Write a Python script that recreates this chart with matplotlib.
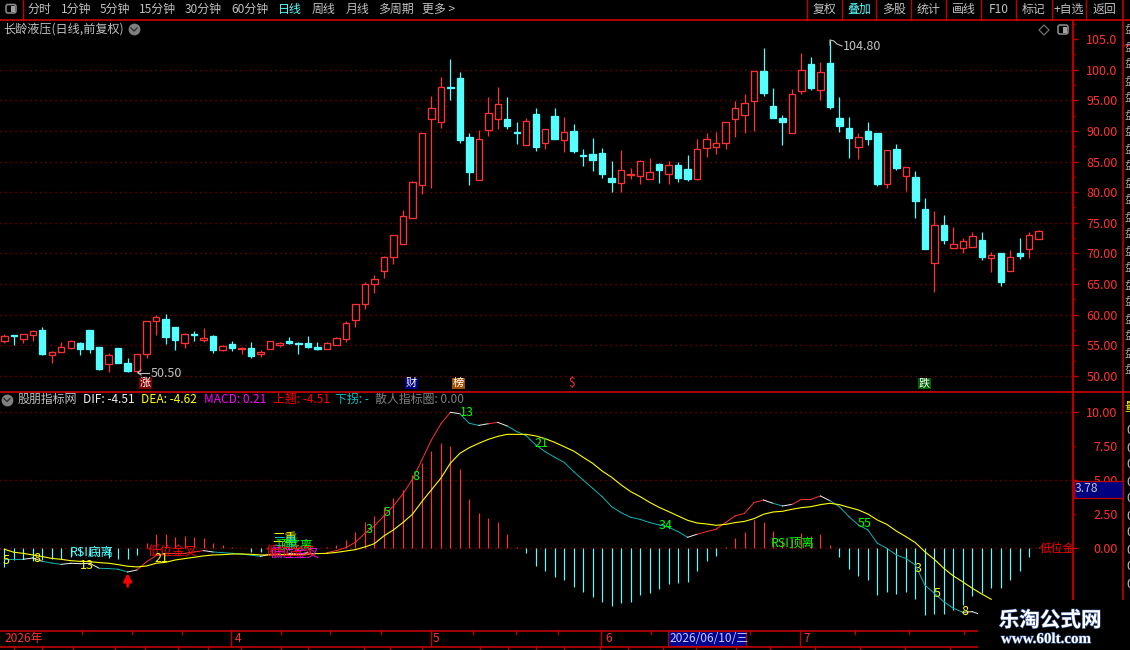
import matplotlib
matplotlib.use('Agg')
import matplotlib.pyplot as plt
from matplotlib.patches import Rectangle, FancyBboxPatch, Polygon
import matplotlib.patheffects as pe

plt.rcParams['font.family'] = ['Noto Sans CJK SC', 'DejaVu Sans']

W, H = 1130, 650
RED = '#ff3232'
CYAN = '#54ffff'
FRAME = '#c00000'
GRAY = '#c0c0c0'

# one row per day: open, high, low, close
OPEN = [55.76, 56.69, 56.03, 56.63, 57.50, 53.37, 53.97, 54.62, 55.44, 57.50,
        54.73, 51.90, 54.57, 52.12, 50.87, 53.53, 58.92, 59.30, 57.94, 55.33,
        56.85, 55.93, 56.52, 54.19, 55.22, 54.35, 54.57, 53.53, 54.46, 55.00,
        55.71, 55.44, 55.33, 54.68, 54.46, 55.00, 55.98, 59.19, 61.70, 64.96,
        67.08, 69.37, 71.59, 75.73, 81.22, 91.88, 91.50, 97.15, 98.63, 89.00,
        82.04, 90.20, 91.94, 91.94, 89.80, 87.75, 92.76, 88.08, 92.43, 88.57,
        89.98, 86.05, 86.23, 86.39, 82.31, 81.55, 82.75, 82.69, 82.20, 84.60,
        83.02, 84.43, 83.78, 82.20, 87.26, 87.42, 88.08, 92.00, 92.65, 94.94,
        99.73, 94.07, 92.11, 89.72, 96.57, 100.92, 96.68, 101.09, 92.11, 90.48,
        87.43, 89.99, 89.66, 81.39, 87.05, 82.70, 82.48, 77.26, 68.50, 74.65,
        70.95, 70.95, 71.11, 72.20, 69.32, 70.08, 67.20, 70.08, 70.79, 72.42]
HIGH = [56.80, 56.69, 56.80, 57.50, 57.94, 54.02, 55.60, 55.87, 55.60, 57.50,
        54.73, 53.70, 54.57, 52.88, 53.53, 58.92, 60.00, 60.12, 57.94, 56.96,
        57.29, 57.78, 56.63, 55.06, 55.65, 54.78, 55.55, 54.24, 55.65, 55.49,
        56.31, 55.55, 56.52, 55.49, 55.49, 56.42, 58.92, 61.69, 65.29, 66.43,
        69.59, 72.96, 77.09, 81.82, 89.60, 95.69, 98.74, 101.73, 99.61, 89.60,
        90.14, 95.53, 97.16, 95.53, 91.45, 92.05, 93.73, 90.25, 93.73, 92.27,
        91.12, 87.04, 88.84, 87.21, 85.08, 86.88, 83.94, 85.25, 85.57, 84.76,
        85.03, 84.92, 86.06, 88.68, 89.65, 89.82, 91.40, 94.88, 96.03, 99.73,
        103.53, 97.01, 92.60, 96.79, 102.72, 102.07, 101.25, 104.80, 95.54, 92.27,
        89.61, 91.46, 89.66, 86.83, 87.87, 84.06, 83.46, 79.05, 76.93, 76.28,
        74.32, 72.53, 73.51, 73.51, 70.24, 70.08, 70.57, 72.53, 73.51, 73.83]
LOW = [55.44, 55.06, 55.44, 55.76, 53.42, 52.17, 53.97, 54.46, 53.42, 53.80,
       50.98, 50.70, 52.06, 50.70, 50.50, 52.99, 56.69, 55.22, 54.24, 54.62,
       55.76, 55.49, 53.80, 54.13, 54.13, 53.59, 52.88, 53.15, 54.35, 54.78,
       55.27, 53.64, 54.62, 54.29, 54.35, 55.00, 55.60, 58.05, 60.99, 63.49,
       66.05, 68.34, 71.59, 75.73, 79.70, 80.73, 90.52, 95.04, 88.08, 81.17,
       82.04, 89.16, 90.31, 90.36, 87.86, 87.75, 86.72, 87.04, 88.68, 86.55,
       86.39, 84.27, 83.45, 82.31, 80.03, 80.03, 82.15, 81.33, 82.20, 81.49,
       81.33, 81.66, 81.82, 82.04, 85.74, 86.23, 87.05, 89.06, 89.66, 89.99,
       95.76, 92.11, 87.70, 89.72, 96.08, 96.68, 95.05, 93.58, 89.83, 85.58,
       85.42, 87.70, 81.01, 80.69, 83.62, 80.20, 75.79, 70.73, 63.77, 71.55,
       70.95, 70.08, 71.11, 68.94, 66.98, 64.69, 67.20, 69.10, 69.26, 72.42]
CLOSE = [56.52, 56.52, 56.80, 57.40, 53.59, 53.91, 54.68, 55.71, 54.40, 54.46,
         51.14, 53.42, 52.17, 50.87, 53.53, 58.92, 59.57, 56.42, 55.87, 56.80,
         56.75, 56.14, 54.24, 54.89, 54.57, 54.62, 53.32, 53.91, 55.65, 55.38,
         55.44, 55.16, 54.78, 54.46, 55.33, 56.14, 58.59, 61.69, 64.96, 65.78,
         69.37, 72.96, 76.11, 81.60, 89.60, 93.68, 97.11, 97.05, 88.51, 83.29,
         88.62, 92.86, 94.33, 90.80, 89.70, 91.56, 87.37, 90.25, 88.68, 89.76,
         86.72, 85.95, 85.25, 82.96, 81.66, 83.56, 82.96, 85.03, 83.24, 83.62,
         84.38, 82.31, 82.15, 86.99, 88.62, 87.97, 91.40, 93.69, 94.50, 99.73,
         96.24, 92.11, 91.46, 95.97, 99.89, 97.00, 99.56, 93.91, 90.80, 88.85,
         88.96, 88.68, 81.34, 86.83, 83.95, 84.06, 78.56, 70.73, 74.59, 72.20,
         71.49, 71.98, 72.80, 69.43, 69.70, 65.35, 69.37, 69.59, 72.96, 73.61]

MACD = [-1.35, -0.86, -0.81, -0.91, -0.86, -0.81, -0.81, -0.61, -0.60, -0.60,
        -0.60, -0.70, -0.81, -0.81, -0.49, 0.42, 1.05, 1.05, 0.86, 0.91,
        0.86, 0.76, 0.42, 0.25, 0.07, 0.05, -0.25, -0.25, 0.05, -0.05,
        -0.10, -0.05, -0.05, 0.05, 0.10, 0.25, 0.61, 1.20, 1.94, 2.38,
        3.04, 3.68, 4.29, 5.39, 6.25, 7.18, 7.77, 7.52, 5.83, 3.63,
        2.60, 2.23, 1.94, 1.05, 0.07, -0.32, -1.27, -1.64, -2.08, -2.33,
        -2.82, -3.19, -3.55, -3.92, -4.21, -4.04, -3.92, -3.43, -3.26, -2.99,
        -2.60, -2.52, -2.45, -1.67, -0.91, -0.54, 0.07, 0.74, 1.20, 2.08,
        1.94, 1.27, 0.60, 0.70, 1.10, 0.90, 1.05, 0.25, -0.64, -1.52,
        -2.03, -2.33, -3.43, -3.21, -3.36, -3.21, -3.70, -4.90, -4.83, -4.83,
        -4.53, -4.17, -3.50, -3.28, -2.92, -2.92, -2.33, -1.67, -0.64, 0.07]
DEA = [-0.07, -0.29, -0.37, -0.49, -0.61, -0.74, -0.81, -0.91, -0.96, -0.98,
       -1.05, -1.10, -1.20, -1.32, -1.37, -1.30, -1.10, -1.03, -0.86, -0.76,
       -0.66, -0.56, -0.49, -0.47, -0.42, -0.42, -0.44, -0.49, -0.49, -0.47,
       -0.44, -0.44, -0.42, -0.39, -0.37, -0.30, -0.20, -0.10, 0.10, 0.34,
       0.91, 1.35, 1.89, 2.50, 3.43, 4.29, 5.15, 6.25, 6.98, 7.40,
       7.72, 8.01, 8.23, 8.38, 8.38, 8.38, 8.26, 8.06, 7.79, 7.47,
       7.15, 6.69, 6.25, 5.68, 5.22, 4.66, 4.17, 3.80, 3.38, 3.01,
       2.70, 2.38, 2.06, 1.86, 1.79, 1.69, 1.76, 1.89, 1.98, 2.18,
       2.50, 2.67, 2.72, 2.87, 2.99, 3.06, 3.21, 3.31, 3.21, 3.01,
       2.82, 2.52, 2.08, 1.76, 1.27, 0.86, 0.42, -0.25, -0.81, -1.47,
       -2.03, -2.47, -2.94, -3.36, -3.75]
DIF = [-0.81, -0.81, -0.81, -0.71, -0.96, -1.08, -1.18, -1.10, -1.13, -1.10,
       -1.47, -1.49, -1.54, -1.74, -1.59, -0.98, -0.54, -0.37, -0.37, -0.37,
       -0.27, -0.17, -0.27, -0.32, -0.37, -0.42, -0.51, -0.59, -0.44, -0.39,
       -0.39, -0.42, -0.32, -0.32, -0.32, -0.17, 0.05, 0.45, 1.10, 1.64,
       2.38, 3.11, 3.99, 5.07, 6.49, 7.96, 9.14, 10.00, 9.90, 9.19,
       9.04, 9.16, 9.26, 8.99, 8.58, 8.28, 7.60, 7.10, 6.69, 6.32,
       5.64, 5.02, 4.41, 3.80, 3.06, 2.62, 2.28, 2.13, 1.89, 1.72,
       1.54, 1.23, 0.81, 1.03, 1.23, 1.40, 1.89, 2.38, 2.57, 3.36,
       3.55, 3.31, 3.11, 3.23, 3.60, 3.60, 3.85, 3.50, 3.06, 2.33,
       1.72, 1.35, 0.37, 0.00, -0.49, -0.74, -1.23, -2.70, -3.31, -3.92,
       -4.41, -4.70, -4.66, -4.90]

PRICE_TICKS = [50, 55, 60, 65, 70, 75, 80, 85, 90, 95, 100, 105]
PRICE_LABELS = ['50.00', '55.00', '60.00', '65.00', '70.00', '75.00', '80.00',
                '85.00', '90.00', '95.00', '100.0', '105.0']
MACD_TICKS = [0, 5, 10]
MACD_LABELS = ['0.00', '5.00', '10.00']
MACD_MINOR = [2.5, 7.5]
MACD_MINOR_LABELS = ['2.50', '7.50']

# label, day index, value, colour
FIB_LABELS = [('5', 0.2, -0.91, '#ffff00'), ('8', 3.4, -0.72, '#ffff00'),
              ('13', 8.7, -1.23, '#ffff00'), ('21', 16.6, -0.72, '#ffff00'),
              ('3', 38.4, 1.35, '#00ff00'), ('5', 40.3, 2.6, '#00ff00'),
              ('8', 43.4, 5.25, '#00ff00'), ('13', 48.7, 9.95, '#00ff00'),
              ('21', 56.6, 7.74, '#00ff00'), ('34', 69.7, 1.64, '#00ff00'),
              ('55', 90.7, 1.86, '#00ff00'), ('3', 96.3, -1.52, '#ffff00'),
              ('5', 98.3, -3.29, '#ffff00'), ('8', 101.2, -4.68, '#ffff00')]
SIGNALS = [('RSI底离', 9.25, -0.27, CYAN), ('低位金叉', 17.7, -0.27, '#ff0000'),
           ('三重', 29.5, 0.68, '#ffff00'), ('二重', 29.7, 0.42, '#00c0c0'),
           ('顶底离', 30.5, 0.2, '#00ff00'), ('低位金叉', 30.6, -0.42, '#ff00ff'),
           ('低位金叉', 30.2, -0.32, '#ff0000'),
           ('RSI顶离', 83.1, 0.39, '#00ff00')]
MENU = [('分时', 28), ('1分钟', 61), ('5分钟', 100), ('15分钟', 139), ('30分钟', 185),
        ('60分钟', 231), ('日线', 278), ('周线', 312), ('月线', 346), ('多周期', 378),
        ('更多 >', 422)]
BUTTONS = ['复权', '叠加', '多股', '统计', '画线', 'F10', '标记', '+自选', '返回']
BUTTON_EDGES = [807, 842, 876, 911, 946, 981, 1016, 1052, 1086, 1123]
LEGEND = [('DIF: -4.51', 83, '#f0f0f0'), ('DEA: -4.62', 141, '#ffff00'),
          ('MACD: 0.21', 204, '#ff00ff'), ('上翘: -4.51', 273, '#ff0000'),
          ('下拐: -', 335, '#00c0c0'), ('散人指标圈: 0.00', 375, '#808080')]
TAGS = [('涨', 145, '#800000'), ('财', 411, '#000080'),
        ('榜', 458, '#a05000'), ('跌', 924, '#006000')]
MONTHS = [('2026年', 5, None), ('4', 235, 231), ('5', 433, 431),
          ('6', 605, 601), ('7', 803, 800)]
UPPER_TICKS = [82, 132, 182, 281, 330, 381, 473, 516, 558, 651, 750, 855, 909, 964]
LOWER_TICKS = [14, 42, 73, 115, 145, 178, 208, 241, 281, 308, 364, 390, 422, 480,
               508, 536, 564, 600, 628, 663, 696, 736, 770, 815, 860, 905, 950]


def to_fig(x0, y0, x1, y1):
    # pixel box, y measured from the top, to a figure rectangle
    return [x0/W, 1-y1/H, (x1-x0)/W, (y1-y0)/H]


def draw_candles(ax):
    for i in range(len(OPEN)):
        up = CLOSE[i] > OPEN[i]
        col = RED if up else CYAN
        ax.vlines(i, LOW[i], HIGH[i], color=col, lw=0.9, zorder=2)
        bottom = min(OPEN[i], CLOSE[i])
        ax.bar(i, abs(CLOSE[i]-OPEN[i]), bottom=bottom, width=0.68,
               facecolor='black' if up else col, edgecolor=col, lw=0.95, zorder=3)


def draw_dif(ax):
    # first step after a turn is white, then red going up, teal going down
    last = 0
    for i in range(len(DIF)-1):
        d = DIF[i+1]-DIF[i]
        sign = last if d == 0 else (1 if d > 0 else -1)
        col = '#f0f0f0' if sign != last else (RED if sign > 0 else '#10b4b4')
        last = sign
        ax.plot([i, i+1], [DIF[i], DIF[i+1]], color=col, lw=0.7, zorder=4)


def grid(ax, values):
    for v in values:
        ax.axhline(v, color='#a00000', lw=1, ls=(0, (0.8, 2.8)), zorder=1)


def style_axis(ax, ticks, labels):
    ax.set_facecolor('black')
    ax.set_xlim(-4.3/9.49, (1072-4.3)/9.49)
    ax.set_xticks([])
    for s in ax.spines.values():
        s.set_visible(False)
    ax.yaxis.tick_right()
    ax.set_yticks(ticks)
    ax.set_yticklabels(labels, ha='right')
    ax.tick_params(axis='y', which='major', length=4.3, width=1, color=FRAME,
                   labelcolor=RED, labelsize=9, pad=28.5)
    ax.tick_params(axis='y', which='minor', length=2.2, width=1, color=FRAME,
                   labelcolor=RED, labelsize=9, pad=30.5)


fig = plt.figure(figsize=(W/100, H/100), dpi=100, facecolor='black')

# price panel
ax_k = fig.add_axes(to_fig(0, 20, 1072, 391))
style_axis(ax_k, PRICE_TICKS, PRICE_LABELS)
ax_k.set_ylim(50+(376-391)*0.1632, 50+(376-20)*0.1632)
ax_k.set_yticks([v+2.5 for v in PRICE_TICKS], minor=True)
grid(ax_k, PRICE_TICKS[:-1])
draw_candles(ax_k)

# macd panel
ax_m = fig.add_axes(to_fig(0, 392, 1072, 630))
style_axis(ax_m, MACD_TICKS, MACD_LABELS)
ax_m.set_ylim((548.3-630)/13.6, (548.3-392)/13.6)
ax_m.set_yticks(MACD_MINOR, minor=True)
ax_m.set_yticklabels(MACD_MINOR_LABELS, minor=True, ha='right')
grid(ax_m, MACD_TICKS)
for i, v in enumerate(MACD):
    ax_m.vlines(i, 0, v, color=RED if v > 0 else CYAN, lw=0.85, zorder=2)
ax_m.plot(range(len(DEA)), DEA, color='#ffff00', lw=0.8, zorder=5)
draw_dif(ax_m)
for txt, i, v, col in SIGNALS:
    ax_m.text(i, v, txt, color=col, fontsize=9, ha='center', va='center', zorder=6)
for txt, i, v, col in FIB_LABELS:
    ax_m.text(i, v, txt, color=col, fontsize=9, ha='center', va='center', zorder=7)
ax_m.text(109.1, 0.0, '低位金叉', color='#ff0000', fontsize=8.5, ha='left', va='center',
          clip_on=True, zorder=6)
ax_m.annotate('', xy=(13, -1.82), xytext=(13, -2.8),
              arrowprops=dict(arrowstyle='-|>', color='#ff0000', lw=2, mutation_scale=11,
                              shrinkA=0, shrinkB=0))

# everything around the panels, in screen pixels
ax = fig.add_axes([0, 0, 1, 1], zorder=10)
ax.set_xlim(0, W)
ax.set_ylim(H, 0)
ax.axis('off')
ax.patch.set_alpha(0)

for y in (19.5, 391.5):
    ax.plot([0, W], [y, y], color=FRAME, lw=1.3)
ax.plot([23, 23], [0, 19.5], color=FRAME, lw=1)
ax.plot([1073, 1073], [20, 600], color='#b00000', lw=1.6)
ax.plot([1123, 1123], [0, 600], color='#b00000', lw=1.3)
ax.plot([1123, W], [45, 45], color=FRAME, lw=1)
ax.plot([0, 978], [630.5, 630.5], color=FRAME, lw=1.2)
ax.plot([0, 978], [646.5, 646.5], color=FRAME, lw=1.2)
for x in BUTTON_EDGES[:-1]:
    ax.plot([x, x], [0, 19.5], color=FRAME, lw=1)
for x in UPPER_TICKS:
    ax.plot([x, x], [630, 633.5], color=FRAME, lw=0.9)
for x in LOWER_TICKS:
    ax.plot([x, x], [646, 650], color=FRAME, lw=0.9)

# toolbar
ax.add_patch(FancyBboxPatch((6, 4.5), 10, 8.5, boxstyle='round,pad=0,rounding_size=2',
                            fc='black', ec='#909090', lw=1.1))
ax.add_patch(Rectangle((11, 6), 4, 6, fc='#a0a0a0', ec='none'))
for txt, x in MENU:
    ax.text(x, 9.5, txt, color=CYAN if txt == '日线' else GRAY, fontsize=8.6, va='center')
for k, txt in enumerate(BUTTONS):
    ax.text((BUTTON_EDGES[k]+BUTTON_EDGES[k+1])/2, 9.5, txt, ha='center', va='center',
            color=CYAN if txt == '叠加' else GRAY, fontsize=8.6)

# titles
ax.text(3, 29, '长龄液压(日线,前复权)', color=GRAY, fontsize=8.7, va='center')
for cx, cy in ((134, 29), (7, 399.5)):
    ax.plot(cx, cy, 'o', color='#808080', ms=8.5, mew=0)
    ax.plot([cx-3, cx, cx+3], [cy-1, cy+2, cy-1], color='#303030', lw=1)
ax.text(18, 399.5, '股朋指标网', color=GRAY, fontsize=8.6, va='center')
for txt, x, col in LEGEND:
    ax.text(x, 399.5, txt, color=col, fontsize=8.6, va='center')

# top right icons
ax.add_patch(Polygon([(1044, 25), (1049, 30), (1044, 35), (1039, 30)], fc='none',
                     ec='#707070', lw=0.9))
ax.add_patch(FancyBboxPatch((1058, 25), 10, 9, boxstyle='round,pad=0,rounding_size=2',
                            fc='black', ec='#909090', lw=1.1))
ax.add_patch(Rectangle((1063, 26.5), 4, 6, fc='#a0a0a0', ec='none'))

# high and low notes
ax.text(843, 46, '104.80', color=GRAY, fontsize=9, va='center')
ax.plot([830, 830, 834, 837, 842], [45, 40, 41, 44, 46], color=GRAY, lw=0.8)
ax.text(151, 373.5, '50.50', color=GRAY, fontsize=9, va='center')
ax.plot([149, 138], [372.5, 372.5], color=GRAY, lw=0.8)
ax.plot([141, 138, 141], [370, 372.5, 375], color=GRAY, lw=0.8)

# event tags
for txt, x, col in TAGS:
    ax.add_patch(Rectangle((x-6.5, 377.5), 13, 11.5, fc=col, ec='none'))
    ax.text(x, 383, txt, color='white', fontsize=8, ha='center', va='center')
ax.text(572, 383, '$', color=RED, fontsize=8.5, ha='center', va='center')

# date strip
for txt, x, line in MONTHS:
    ax.text(x, 638.5, txt, color=RED, fontsize=8.6, va='center')
    if line is not None:
        ax.plot([line, line], [630, 646], color=FRAME, lw=1)
ax.add_patch(Rectangle((668, 631), 78, 15, fc='#000090', ec=FRAME, lw=0.8))
ax.text(670, 638.5, '2026/06/10/三', color='#c8c8ff', fontsize=8.6, va='center')

# current value box
ax.add_patch(Rectangle((1074, 481), 48.5, 16.5, fc='#000080', ec=FRAME, lw=0.9, zorder=5))
ax.text(1074.5, 489, '3.78', color=GRAY, fontsize=8.8, va='center', zorder=6)

# cut off column at the right edge
for y in range(30, 385, 17):
    ax.text(1124.5, y, '盘', color='#a0a0a0', fontsize=8.6, va='center', clip_on=True)
ax.text(1124.5, 407, '量', color='#ffff00', fontsize=8.6, va='center', clip_on=True)
for y in range(431, 600, 17):
    ax.text(1126, y, '0', color=GRAY, fontsize=9, va='center', clip_on=True)

# watermark
ax.add_patch(Rectangle((978, 600), 152, 50, fc='black', ec='none', zorder=8))
shadow = [pe.withStroke(linewidth=0.9, foreground='#30508c')]
ax.text(1050, 620, '乐淘公式网', color='white', fontsize=14.8, fontweight='bold',
        ha='center', va='center', zorder=9, path_effects=shadow)
ax.text(1046, 639.5, 'www.60lt.com', color='white', fontsize=10.8, fontweight='bold',
        family='Liberation Serif', ha='center', va='center', zorder=9, path_effects=shadow)

fig.savefig('out.png', dpi=100, facecolor='black')
